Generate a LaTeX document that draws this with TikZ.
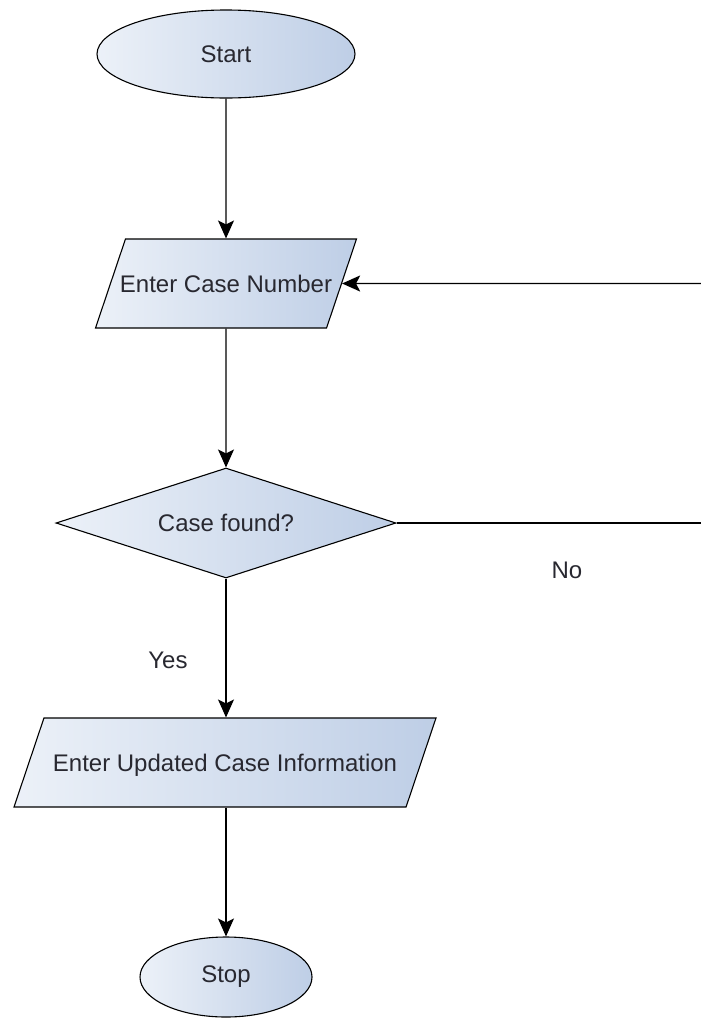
\documentclass[tikz,border=0pt]{standalone}
\usepackage{fontspec}
\setmainfont{Liberation Sans}
\usetikzlibrary{shapes.geometric,arrows.meta}
\definecolor{shL}{RGB}{236,241,248}
\definecolor{shR}{RGB}{190,206,230}
\definecolor{txt}{RGB}{40,40,48}
\tikzset{
  base/.style={draw=black, line width=1.1pt, left color=shL, right color=shR, inner sep=0pt,
    text=txt, font=\fontsize{24}{28}\selectfont},
  term/.style={base, ellipse},
  io/.style={base, trapezium, trapezium stretches body=true, trapezium left angle=71.4, trapezium right angle=108.6,
    text height=17pt, text depth=0pt, inner xsep=0pt, inner ysep=36pt},
  dec/.style={base, diamond, shape aspect=3},
  conn/.style={line width=1.3pt, draw=black},
  arr/.style={conn, -{Stealth[length=18pt,width=16pt,inset=4pt]}},
  lbl/.style={text=txt, font=\fontsize{24}{28}\selectfont}
}
\begin{document}
\begin{tikzpicture}[x=1pt,y=-1pt]
\useasboundingbox (0,0) rectangle (701,1021);
\node[term, minimum width=258pt, minimum height=88pt] (start) at (226,54) {Start};
\node[io, inner xsep=-5.5pt] (enter) at (226,283.5) {Enter Case Number};
\node[dec, minimum width=340pt, minimum height=110pt] (found) at (226,523) {Case found?};
\node[io, minimum width=422pt] (update) at (225,762.5) {Enter Updated Case Information};
\node[term, minimum width=172pt, minimum height=80pt] (stop) at (226,977) {Stop};
\coordinate (r1) at (701,523);
\coordinate (r2) at (701,283.5);
\node[lbl] (no) at (567,570) {No};
\node[lbl] (yes) at (168,660) {Yes};
\draw[arr] (start.south) -- (enter.north);
\draw[arr] (enter.south) -- (found.north);
\draw[arr] (found.south) -- (found.south |- update.north);
\draw[arr] (update.south -| stop.north) -- (stop.north);
\draw[conn] (found.east) -- (r1);
\draw[arr] (r2) -- (enter.east);
\end{tikzpicture}
\end{document}
